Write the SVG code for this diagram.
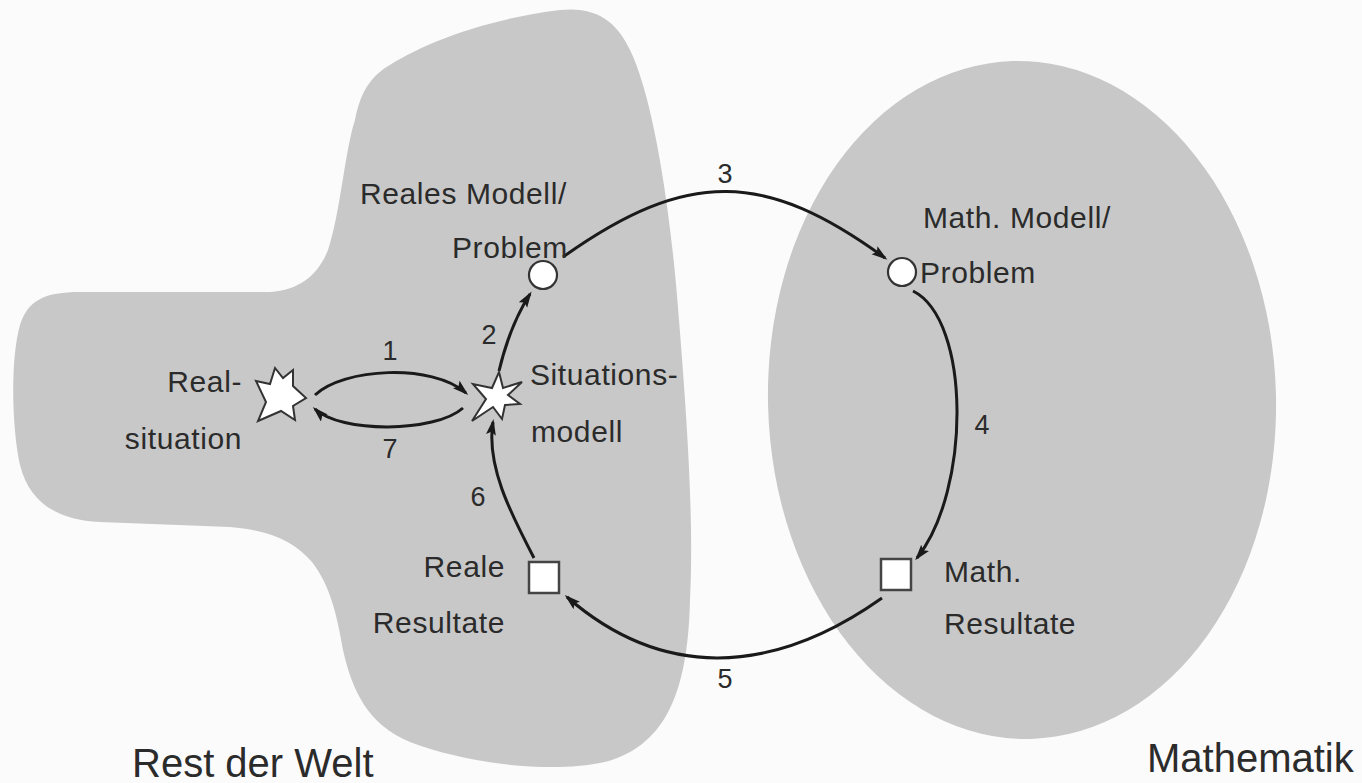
<svg xmlns="http://www.w3.org/2000/svg" width="1362" height="783" viewBox="0 0 1362 783">
<style>
.region{fill:#c8c8c8;stroke:none}
.lbl{font-family:"Liberation Sans",Arial,sans-serif;font-size:30px;fill:#2b2b2b;letter-spacing:0.6px}
.big{font-family:"Liberation Sans",Arial,sans-serif;font-size:40px;fill:#2b2b2b}
.num{font-family:"Liberation Sans",Arial,sans-serif;font-size:27px;fill:#2b2b2b;text-anchor:middle}
.end{text-anchor:end}
.conn{fill:none;stroke:#1a1a1a;stroke-width:3;marker-end:url(#arrow)}
.circ{fill:#ffffff;stroke:#333333;stroke-width:2.2}
.sq{fill:#ffffff;stroke:#444444;stroke-width:2.5}
.star{fill:#ffffff;stroke:#333333;stroke-width:2;stroke-linejoin:miter}
</style>
<defs>
<marker id="arrow" markerUnits="userSpaceOnUse" markerWidth="17" markerHeight="11" refX="13" refY="5" orient="auto">
<path d="M0,0 L16,5 L0,10 L3,5 Z" fill="#1a1a1a"/>
</marker>
</defs>
<rect width="1362" height="783" fill="#fbfbfb"/>

<g id="rest-der-welt">
<path class="region" d="M 355,120 C 360,95 368,80 385,68 C 420,45 480,20 560,10 C 600,6 618,25 630,50 C 652,95 670,200 679,320 C 687,420 694,520 690,600 C 688,680 672,740 612,760 C 560,775 470,765 410,742 C 368,725 352,690 343,650 C 337,615 330,585 312,562 C 295,542 270,530 230,527 L 100,522 C 60,520 30,505 20,465 C 12,430 10,360 20,325 C 28,300 45,292 80,292 L 270,292 C 300,290 318,275 328,250 C 340,215 345,150 355,120 Z"/>
<text class="big" x="132" y="777">Rest der Welt</text>
</g>

<g id="mathematik">
<ellipse class="region" cx="1022" cy="400" rx="254" ry="339" transform="rotate(-1.5 1022 400)"/>
<text class="big" x="1147" y="772">Mathematik</text>
</g>

<g id="connectors">
<path id="c1" class="conn" d="M 315,395 C 343,368 432,363 466,393"/>
<text class="num" x="390" y="360">1</text>
<path id="c7" class="conn" d="M 463,408 C 435,433 340,433 315,409"/>
<text class="num" x="390" y="458">7</text>
<path id="c2" class="conn" d="M 499,371 Q 510,325 530,294"/>
<text class="num" x="489" y="344">2</text>
<path id="c3" class="conn" d="M 563,257 C 688,168 766,171 885,258"/>
<text class="num" x="725" y="183">3</text>
<path id="c4" class="conn" d="M 913,291 C 971,320 971,490 917,558"/>
<text class="num" x="982" y="434">4</text>
<path id="c5" class="conn" d="M 882,598 C 769,678 660,678 567,597"/>
<text class="num" x="725" y="688">5</text>
<path id="c6" class="conn" d="M 534,558 C 510,512 486,465 493,422"/>
<text class="num" x="478" y="506">6</text>
</g>

<g id="realsituation">
<polygon class="star" points="256,381 270,384 275,368 283,378 293,370 293,386 306,398 293,406 295,420 281,411 258,421 266,402"/>
<text class="lbl end" x="242" y="392">Real-</text>
<text class="lbl end" x="242" y="449">situation</text>
</g>

<g id="situationsmodell">
<polygon class="star" points="499,372 503,388 522,382 508,395 520,404 505,405 502,419 493,407 472,421 486,399 473,384 492,388"/>
<text class="lbl" x="530" y="385">Situations-</text>
<text class="lbl" x="531" y="442">modell</text>
</g>

<g id="reales-modell">
<circle class="circ" cx="543" cy="275" r="14"/>
<text class="lbl" x="360" y="204">Reales Modell/</text>
<text class="lbl" x="452" y="258">Problem</text>
</g>

<g id="math-modell">
<circle class="circ" cx="902" cy="272" r="14"/>
<text class="lbl" x="923" y="228">Math. Modell/</text>
<text class="lbl" x="920" y="283">Problem</text>
</g>

<g id="math-resultate">
<rect class="sq" x="881" y="559" width="30" height="31"/>
<text class="lbl" x="944" y="582">Math.</text>
<text class="lbl" x="944" y="634">Resultate</text>
</g>

<g id="reale-resultate">
<rect class="sq" x="529" y="562" width="30" height="31"/>
<text class="lbl end" x="505" y="577">Reale</text>
<text class="lbl end" x="505" y="633">Resultate</text>
</g>
</svg>
